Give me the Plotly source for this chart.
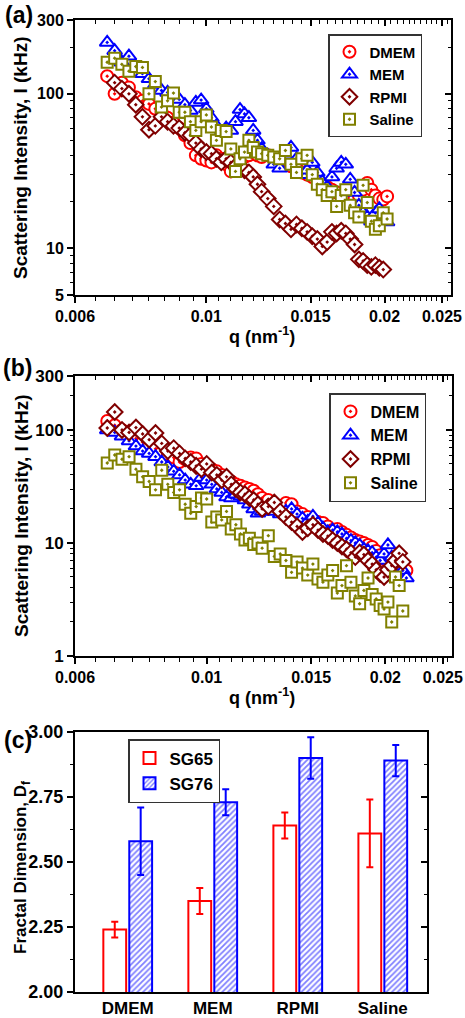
import plotly.graph_objects as go
import numpy as np

# ---------------- data ----------------
q_a = [0.0068, 0.0070, 0.0072, 0.0074, 0.0076, 0.0078, 0.0080, 0.0082, 0.0084, 0.0086,
       0.0088, 0.0090, 0.0092, 0.0094, 0.0096, 0.0098, 0.0100, 0.0102, 0.0104, 0.0106,
       0.0108, 0.0110, 0.0112, 0.0114, 0.0116, 0.0118, 0.0120, 0.0122, 0.0124, 0.0127,
       0.0130, 0.0133, 0.0136, 0.0139, 0.0142, 0.0145, 0.0148, 0.0151, 0.0154, 0.0157,
       0.0160, 0.0163, 0.0166, 0.0169, 0.0172, 0.0175, 0.0178, 0.0181, 0.0184, 0.0187,
       0.0190, 0.0193, 0.0196, 0.0199, 0.0202]

dmem_a = [130, 100, 118, 110, 95, 90, 86, 80, 76, 70,
          65, 60, 54, 48, 40, 38, 37, 36, 40, 38,
          35, 31.5, 33, 36, 39, 40, 42, 40, 39, 40,
          38, 36, 37, 34, 33, 31, 30, 29, 28, 26,
          25, 24, 23, 22, 23, 22, 21, 22, 24, 26.5,
          24, 22, 21, 20.7, 21.7]

mem_a = [215, 190, 160, 175, 150, 135, 125, 115, 105, 102,
         95, 92, 85, 78, 88, 91, 80, 70, 62, 56,
         60, 58, 66, 79, 74, 70, 58, 50, 44, 40,
         35, 33, 40, 45, 38, 30, 32, 36, 31, 27,
         25, 29, 33, 36, 35, 28, 23, 19, 17, 16,
         15, 17, 18, 16, 14.8]

rpmi_a = [None, 118, 108, 100, 85, 71, 58.6, 62, 71, 66,
          62, 60, 56, 54, 48, 44, 42, 41, 38, 36,
          38, 36, 34, 33, 32, 31, 29, 26, 23.3, 21,
          18.7, 15.4, 14.5, 13.3, 14.3, 13.5, 12.8, 12, 11.5, 10.3,
          11, 12.8, 12.5, 13, 12.5, 11.5, 10.6, 8.5, 8.3, 7.8,
          7.6, 7.8, 7.5, 7.3, None]

saline_a = [160, 170, 155, 140, 150, 148, 100, 120, 82, 90,
            101, 76, 76, 66, 58, 66, 73, 61, 50, 58,
            57, 44, 31.5, 38, 42, 50, 45, 42, 41, 40,
            39, 38, 43, 35, 31, 38, 40, 30, 26, 24,
            22, 23.3, 18.7, 22, 24, 19, 17, 16, 25.6, 19.8,
            15, 13.3, 14, 17, 15.5]

q_b = [0.0068, 0.0070, 0.0072, 0.0074, 0.0076, 0.0078, 0.0080, 0.0082, 0.0084, 0.0086,
       0.0088, 0.0090, 0.0092, 0.0094, 0.0096, 0.0098, 0.0100, 0.0102, 0.0104, 0.0106,
       0.0108, 0.0110, 0.0112, 0.0114, 0.0116, 0.0118, 0.0120, 0.0122, 0.0124, 0.0127,
       0.0130, 0.0133, 0.0136, 0.0139, 0.0142, 0.0145, 0.0148, 0.0151, 0.0154, 0.0157,
       0.0160, 0.0163, 0.0166, 0.0169, 0.0172, 0.0175, 0.0178, 0.0181, 0.0184, 0.0187,
       0.0190, 0.0193, 0.0196, 0.0199, 0.0202, 0.0205, 0.0208, 0.0211, 0.0214, 0.0217]

dmem_b = [120, 110, 100, 90, 84, 78, 72, 68, 64, 61,
          57, 52, 55, 57, 56, 50, 47, 45, 43, 40,
          37, 35, 33, 32, 31, 30, 29, 27, 25, 24,
          22, 21, 22.6, 22, 19, 18, 17, 16, 15.3, 15,
          14, 13, 13.3, 12.5, 11.8, 11.2, 10.6, 10.3, 10, 9.6,
          9.2, 8.5, 7.8, 7.2, 6.8, 6.5, 6.3, 6.0, 5.8, 5.7]

mem_b = [100, 95, 88, 80, 72, 65, 62, 58, 52, 47,
         43, 40, 36, 33, 32, 38, 36, 33, 30, 28,
         25.5, 25, 27, 26, 24, 22, 20, 18.3, 19, 21,
         19, 18, 19, 20, 18, 16.5, 15.5, 17.2, 15, 13.5,
         12.5, 13, 12.5, 12, 11, 10.5, 10, 9.5, 8.8, 8.5,
         8.2, 7.5, 7, 8, 9.6, 7.5, 6.5, 6.2, 5.7, 4.9]

rpmi_b = [104, 144, 100, 95, 105, 92, 82, 94, 76, 65,
          69, 62, 56, 52, 48, 45, 50, 42, 40, 36,
          38.5, 33, 30, 28, 27, 25, 24, 22, 20, 21,
          22.8, 19, 17, 15.3, 14, 12.5, 13.5, 14.5, 13, 12,
          11.5, 10.6, 10, 9.3, 8.8, 8.2, 7.5, 8.2, 7.9, 7.0,
          6.5, 5.8, 5.3, 5.0, 5.8, 6.3, 7.0, 8.1, 6.8, None]

saline_b = [51, 60, 55, 58, 45, 38.5, 35, 29.5, 44, 33,
            28, 29.5, 22, 18.3, 21, 25, 24.5, 15.3, 17, 16,
            19, 13.3, 14.5, 12, 10.6, 11, 9.7, 10, 9, 11.6,
            7.6, 8, 7, 5.5, 6.8, 6, 5.2, 6.5, 4.8, 4.5,
            5.2, 5.7, 3.6, 4.2, 6.3, 4.5, 3.4, 2.9, 3.8, 4.9,
            3.5, 3.2, 2.8, 2.6, 3.0, 2.0, 5.0, 4.2, 2.5, None]

media = ["DMEM", "MEM", "RPMI", "Saline"]
sg65 = [2.24, 2.35, 2.64, 2.61]
sg65_err = [0.03, 0.05, 0.05, 0.13]
sg76 = [2.58, 2.73, 2.90, 2.89]
sg76_err = [0.13, 0.05, 0.08, 0.06]

x_major_vals = [0.006, 0.01, 0.015, 0.02, 0.025]
x_major_text = ["0.006", "0.01", "0.015", "0.02", "0.025"]
ya_vals = [5, 10, 100, 300]
ya_text = ["5", "10", "100", "300"]
yb_vals = [1, 10, 100, 300]
yb_text = ["1", "10", "100", "300"]
yc_vals = [2.00, 2.25, 2.50, 2.75, 3.00]
yc_text = ["2.00", "2.25", "2.50", "2.75", "3.00"]

# ---------------- styling helpers ----------------
W, H = 465, 1018
FONT = "Liberation Sans"


def fx(p):
    return p / W


def fy(p):
    return 1 - p / H


x_minor = [round(0.0060 + 0.0005 * i, 4) for i in range(1, 40)]
x_minor = [v for v in x_minor if v not in x_major_vals and v < 0.0259]
ya_minor = [6, 7, 8, 9, 20, 30, 40, 50, 60, 70, 80, 90, 200]
yb_minor = [2, 3, 4, 5, 6, 7, 8, 9, 20, 30, 40, 50, 60, 70, 80, 90, 200]
yc_minor = [2.125, 2.375, 2.625, 2.875]

series = [
    ("DMEM", "circle-dot", "#FF0000", 12),
    ("MEM", "triangle-up-dot", "#0000FF", 13),
    ("RPMI", "diamond-dot", "#800000", 12),
    ("Saline", "square-dot", "#808000", 11),
]

fig = go.Figure()

data_a = [dmem_a, mem_a, rpmi_a, saline_a]
data_b = [dmem_b, mem_b, rpmi_b, saline_b]

for (name, sym, col, sz), ya in zip(series, data_a):
    fig.add_trace(go.Scatter(
        x=q_a, y=ya, mode="markers", name=name, xaxis="x", yaxis="y",
        legend="legend",
        marker=dict(symbol=sym, size=sz, color="white",
                    line=dict(color=col, width=2)),
    ))

for (name, sym, col, sz), yb in zip(series, data_b):
    fig.add_trace(go.Scatter(
        x=q_b, y=yb, mode="markers", name=name, xaxis="x2", yaxis="y2",
        legend="legend2",
        marker=dict(symbol=sym, size=sz, color="white",
                    line=dict(color=col, width=2)),
    ))

fig.add_trace(go.Bar(
    x=media, y=sg65, name="SG65", xaxis="x3", yaxis="y3", legend="legend3",
    marker=dict(color="white", line=dict(color="#FF0000", width=2)),
    error_y=dict(type="data", array=sg65_err, color="#FF0000", thickness=2, width=3.5),
))
fig.add_trace(go.Bar(
    x=media, y=sg76, name="SG76", xaxis="x3", yaxis="y3", legend="legend3",
    marker=dict(color="white", line=dict(color="#0000FF", width=2),
                pattern=dict(shape="/", fgcolor="#0000FF", bgcolor="white",
                             size=4, solidity=0.45)),
    error_y=dict(type="data", array=sg76_err, color="#0000FF", thickness=2, width=3.5),
))

# dummy traces so mirrored (inside-tick) axes get drawn
for xa, ya in [("x4", "y4"), ("x5", "y5"), ("x3", "y6")]:
    fig.add_trace(go.Scatter(x=[None], y=[None], xaxis=xa, yaxis=ya,
                             showlegend=False, hoverinfo="skip", mode="markers"))

tickfont16 = dict(family=FONT, size=16, color="black", weight="bold")
tickfont17 = dict(family=FONT, size=17, color="black", weight="bold")
tickfont18 = dict(family=FONT, size=18, color="black", weight="bold")

xr = [np.log10(0.006), np.log10(0.0259)]

dom_a_x = [fx(75), fx(451)]
dom_a_y = [fy(295), fy(20)]
dom_b_x = [fx(75), fx(452)]
dom_b_y = [fy(656), fy(376)]
dom_c_x = [fx(75), fx(427)]
dom_c_y = [fy(992), fy(732)]


def log_axis(domain, rng, vals, text, minor, anchor, font, side=None,
             overlaying=None, inside=False):
    d = dict(
        type="log", range=rng, tickmode="array", tickvals=vals, ticktext=text,
        ticks="inside" if inside else "outside", ticklen=6, tickwidth=1.6,
        tickcolor="black", showgrid=False, zeroline=False, automargin=False,
        minor=dict(tickmode="array", tickvals=minor, ticks="inside" if inside else "outside",
                   ticklen=3.5, tickwidth=1.4, tickcolor="black", showgrid=False),
        tickfont=font, anchor=anchor,
    )
    if domain is not None:
        d["domain"] = domain
    if overlaying:
        d.update(overlaying=overlaying, side=side, showticklabels=False, showline=False)
    else:
        d.update(showline=True, linecolor="black", linewidth=2, mirror=True)
    return d


layout = dict(
    width=W, height=H, margin=dict(l=0, r=0, t=0, b=0, autoexpand=False),
    paper_bgcolor="white", plot_bgcolor="white",
    font=dict(family=FONT, color="black", weight="bold"),
    barmode="group", bargap=0.39, bargroupgap=0.12,
    xaxis=log_axis(dom_a_x, xr, x_major_vals, x_major_text, x_minor, "y", tickfont16),
    yaxis=log_axis(dom_a_y, [np.log10(5), np.log10(300)], ya_vals, ya_text, ya_minor, "x", tickfont16),
    xaxis4=log_axis(None, xr, x_major_vals, x_major_text, x_minor, "y", tickfont16,
                    side="top", overlaying="x", inside=True),
    yaxis4=log_axis(None, [np.log10(5), np.log10(300)], ya_vals, ya_text, ya_minor, "x", tickfont16,
                    side="right", overlaying="y", inside=True),
    xaxis2=log_axis(dom_b_x, xr, x_major_vals, x_major_text, x_minor, "y2", tickfont16),
    yaxis2=log_axis(dom_b_y, [0, np.log10(300)], yb_vals, yb_text, yb_minor, "x2", tickfont17),
    xaxis5=log_axis(None, xr, x_major_vals, x_major_text, x_minor, "y2", tickfont16,
                    side="top", overlaying="x2", inside=True),
    yaxis5=log_axis(None, [0, np.log10(300)], yb_vals, yb_text, yb_minor, "x2", tickfont17,
                    side="right", overlaying="y2", inside=True),
    xaxis3=dict(domain=dom_c_x, anchor="y3", type="category", categoryorder="array",
                categoryarray=media, range=[-0.62, 3.52], showline=True, linecolor="black",
                linewidth=2, mirror=True, ticks="", showgrid=False, tickfont=tickfont17,
                automargin=False),
    yaxis3=dict(domain=dom_c_y, anchor="x3", range=[2.0, 3.0], tickmode="array",
                tickvals=yc_vals, ticktext=yc_text, ticks="outside", ticklen=6, tickwidth=1.6,
                tickcolor="black", showline=True, linecolor="black", linewidth=2, mirror=True,
                showgrid=False, zeroline=False, tickfont=tickfont18, automargin=False,
                minor=dict(tickmode="array", tickvals=yc_minor, ticks="outside", ticklen=3.5,
                           tickwidth=1.4, tickcolor="black", showgrid=False)),
    yaxis6=dict(overlaying="y3", anchor="x3", side="right", range=[2.0, 3.0], tickmode="array",
                tickvals=yc_vals, ticks="inside", ticklen=6, tickwidth=1.6, tickcolor="black",
                showticklabels=False, showline=False, showgrid=False, zeroline=False,
                automargin=False,
                minor=dict(tickmode="array", tickvals=yc_minor, ticks="inside", ticklen=3.5,
                           tickwidth=1.4, tickcolor="black", showgrid=False)),
    legend=dict(x=fx(328), y=fy(34), xanchor="left", yanchor="top", bgcolor="white",
                bordercolor="#333333", borderwidth=1.5, tracegroupgap=0,
                font=dict(family=FONT, size=15, color="black", weight="bold")),
    legend2=dict(x=fx(329), y=fy(393), xanchor="left", yanchor="top", bgcolor="white",
                 bordercolor="#333333", borderwidth=1.5, tracegroupgap=0,
                 font=dict(family=FONT, size=16, color="black", weight="bold")),
    legend3=dict(x=fx(128), y=fy(739), xanchor="left", yanchor="top", bgcolor="white",
                 bordercolor="#333333", borderwidth=1.5, tracegroupgap=0,
                 font=dict(family=FONT, size=17, color="black", weight="bold")),
)
fig.update_layout(**layout)

ann_font = dict(family=FONT, size=18, color="black", weight="bold")
annotations = [
    dict(text="(a)", x=fx(19), y=fy(15), font=dict(family=FONT, size=23, color="black", weight="bold")),
    dict(text="(b)", x=fx(17), y=fy(368), font=dict(family=FONT, size=23, color="black", weight="bold")),
    dict(text="(c)", x=fx(18), y=fy(740), font=dict(family=FONT, size=23, color="black", weight="bold")),
    dict(text="q (nm<sup>-1</sup>)", x=fx(262), y=fy(335), font=ann_font),
    dict(text="q (nm<sup>-1</sup>)", x=fx(262), y=fy(696), font=ann_font),
    dict(text="Scattering Intensity, I (kHz)", x=fx(20), y=fy(158), textangle=-90,
         font=dict(family=FONT, size=19, color="black", weight="bold")),
    dict(text="Scattering Intensity, I (kHz)", x=fx(21), y=fy(516), textangle=-90,
         font=dict(family=FONT, size=19, color="black", weight="bold")),
    dict(text="Fractal Dimension, D<sub>f</sub>", x=fx(22), y=fy(868), textangle=-90,
         font=dict(family=FONT, size=17, color="black", weight="bold")),
]
for a in annotations:
    a.update(xref="paper", yref="paper", showarrow=False, xanchor="center", yanchor="middle")
fig.update_layout(annotations=annotations)

fig.write_html("out.html", config={"displayModeBar": False},
               post_script="document.body.style.margin='0';document.body.style.overflow='hidden';")
